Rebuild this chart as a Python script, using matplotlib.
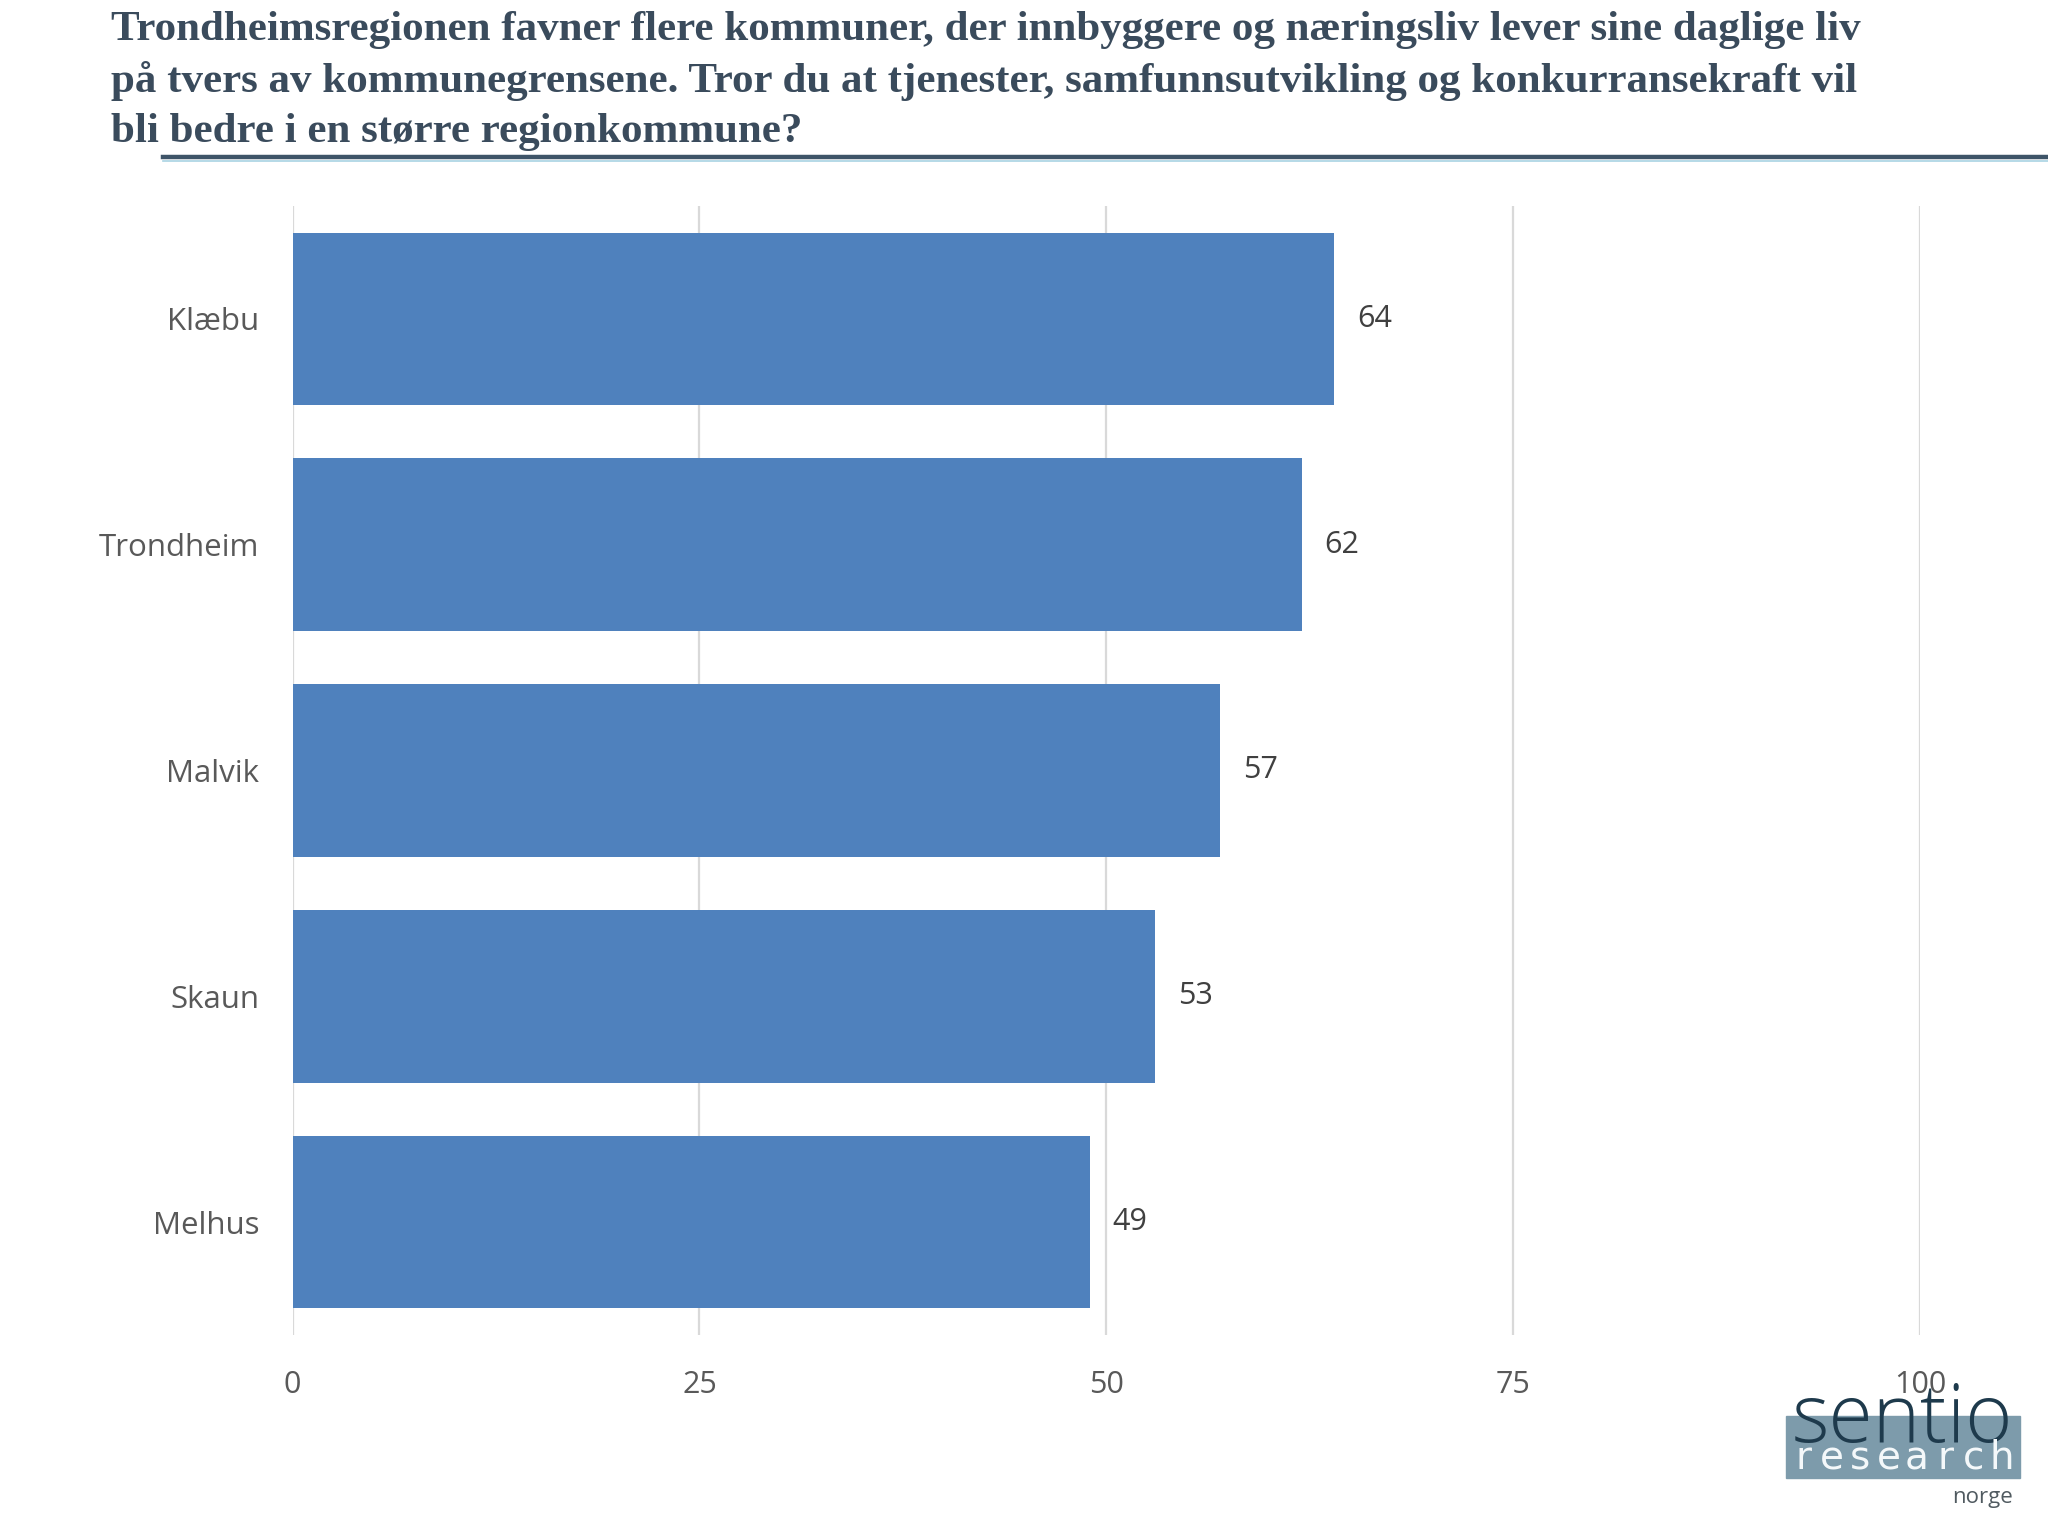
import matplotlib.pyplot as plt
import numpy as np
from matplotlib.patches import Rectangle
from matplotlib.lines import Line2D

kommuner = ["Klæbu", "Trondheim", "Malvik", "Skaun", "Melhus"]
andel = [64, 62, 57, 53, 49]
xticks = [0, 25, 50, 75, 100]

title = ("Trondheimsregionen favner flere kommuner, der innbyggere og næringsliv lever sine daglige liv\n"
         "på tvers av kommunegrensene. Tror du at tjenester, samfunnsutvikling og konkurransekraft vil\n"
         "bli bedre i en større regionkommune?")

fig = plt.figure(figsize=(20.48, 15.36), dpi=100)
ax = fig.add_axes([0.1429, 0.1309, 0.7946, 0.735])

ypos = list(range(len(kommuner)))
ax.barh(ypos, andel, height=0.765, color="#4F81BD", zorder=3)
for y, v in zip(ypos, andel):
    ax.text(v + 1.4, y, str(v), va="center", ha="left", fontsize=22,
            color="#404040", family="Open Sans")

ax.set_ylim(4.5, -0.5)
ax.set_xlim(0, 100)
ax.set_xticks(xticks)
ax.set_xticklabels([str(t) for t in xticks], fontsize=22, color="#595959", family="Open Sans")
ax.set_yticks(ypos)
ax.set_yticklabels(kommuner, fontsize=22.5, color="#595959", family="Open Sans")
ax.tick_params(length=0, pad=24)
ax.tick_params(axis="x", pad=25)
ax.grid(axis="x", color="#d9d9d9", linewidth=1.6, zorder=0)
for s in ax.spines.values():
    s.set_visible(False)

fig.text(0.054, 0.993, title, ha="left", va="top", fontsize=31, fontweight="bold",
         color="#3a4b5c", family="Liberation Serif", linespacing=1.4)
fig.add_artist(Line2D([0.0795, 1.0], [0.8975, 0.8975], color="#3e5468", linewidth=3.2))
fig.add_artist(Line2D([0.0795, 1.0], [0.8955, 0.8955], color="#a9d3e3", linewidth=1.2))

# logo
fig.add_artist(Rectangle((0.872, 0.0378), 0.1145, 0.0403, color="#7d9bab"))
fig.text(0.929, 0.061, "sentio", ha="center", va="baseline", fontsize=58,
         color="#1e3a4c", family="Open Sans", fontweight="light")
for lx, ch in zip(np.linspace(0.8805, 0.9775, 8), "research"):
    fig.text(lx, 0.0435, ch, ha="center", va="baseline", fontsize=28,
             color="#f4f8fa", family="Liberation Sans Narrow")
fig.text(0.983, 0.018, "norge", ha="right", va="bottom", fontsize=16,
         color="#505a60", family="Open Sans")

fig.savefig("out.png", dpi=100, facecolor="white")
